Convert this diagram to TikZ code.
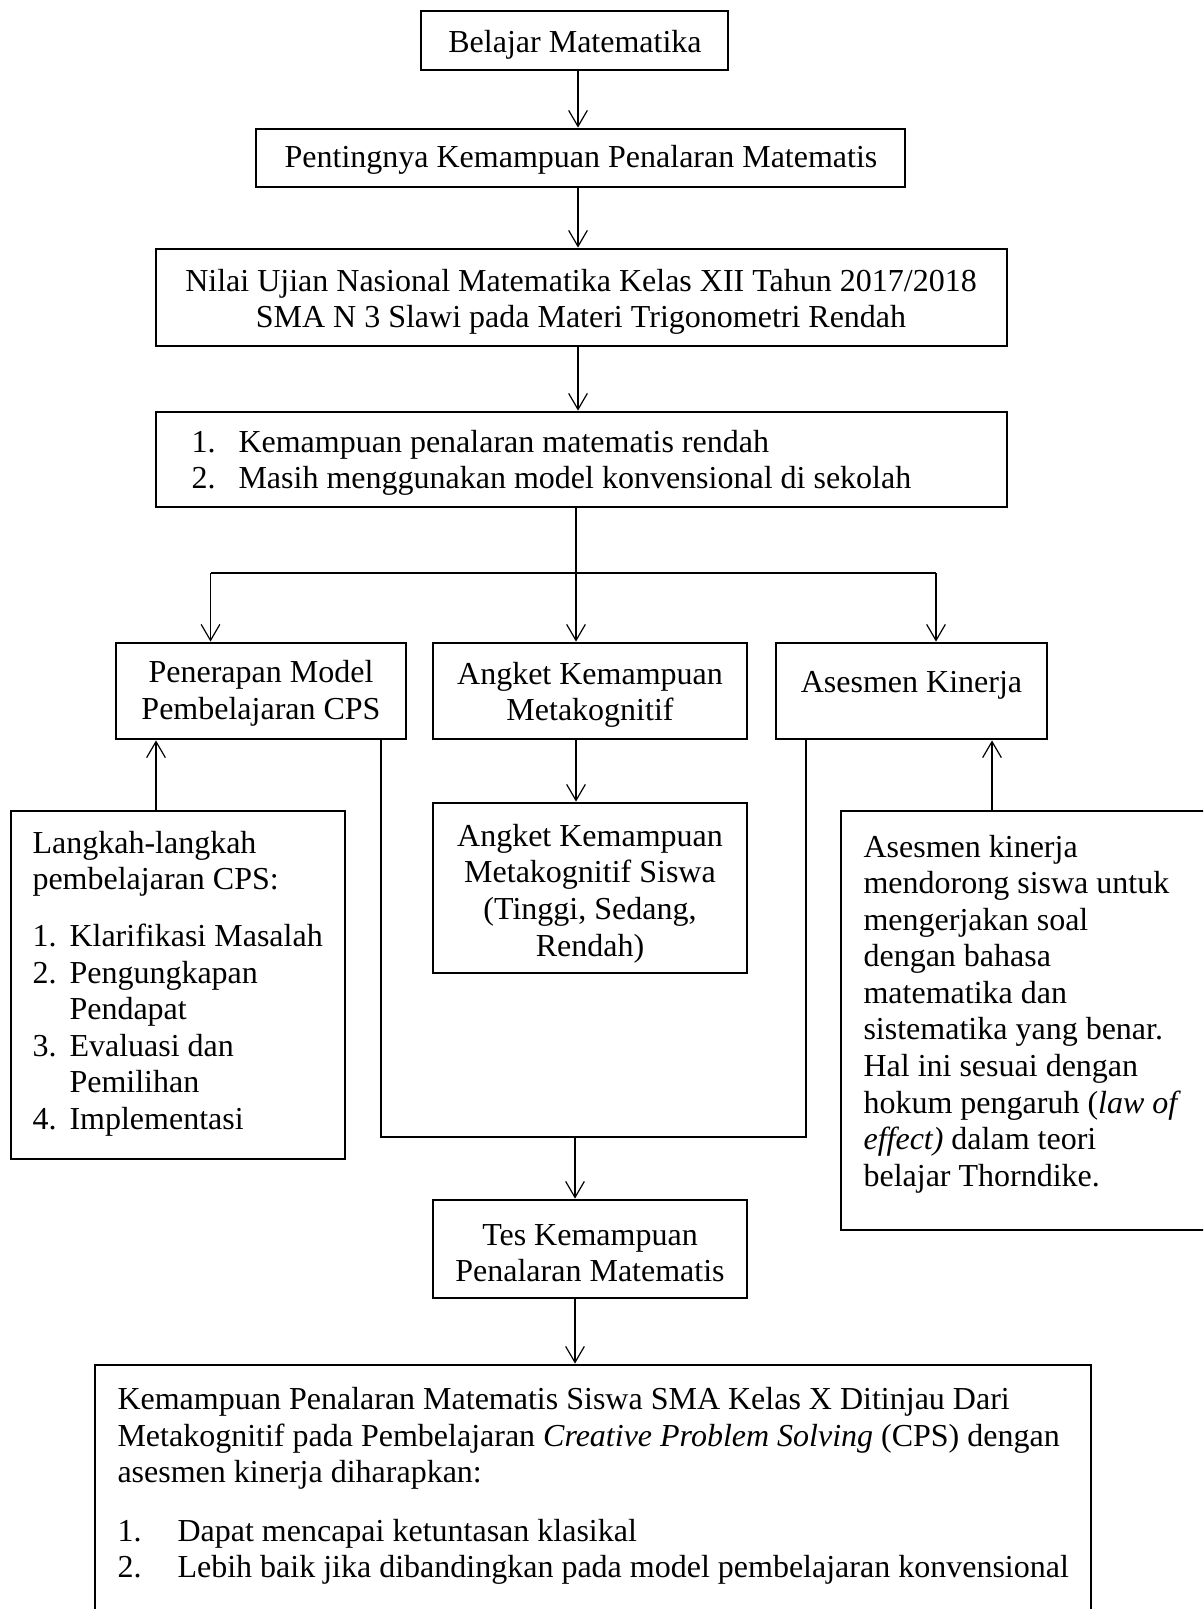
\documentclass[tikz,border=0pt]{standalone}
\usepackage{fontspec}
\setmainfont{Liberation Serif}
\usetikzlibrary{arrows.meta,fit}
\newlength\pxu
\setlength\pxu{0.375pt}
\begin{document}
\begin{tikzpicture}[x=0.375pt, y=-0.375pt,
  font=\fontsize{12}{13.7}\selectfont,
  box/.style={draw, line width=1.05pt, inner sep=0pt},
  txt/.style={inner sep=0pt},
  ctxt/.style={inner sep=0pt, align=center},
  ltxt/.style={inner sep=0pt, align=left, anchor=west},
  conn/.style={line width=0.45pt},
  arr/.style={-{Straight Barb[length=6pt,width=7pt]}},
]
\useasboundingbox (0,0) rectangle (1203,1609);
\clip (0,0) rectangle (1203,1609);

% boxes
\node[box, fit={(421,11) (728,70)}] (b1) {};
\node[ctxt] (b1t) at (575,45) {Belajar Matematika};

\node[box, fit={(256,129) (905,187)}] (b2) {};
\node[ctxt] (b2t) at (581,160) {Pentingnya Kemampuan Penalaran Matematis};

\node[box, fit={(156,249) (1007,346)}] (b3) {};
\node[ctxt] (b3t) at (581,302) {Nilai Ujian Nasional Matematika Kelas XII Tahun 2017/2018\\SMA N 3 Slawi pada Materi Trigonometri Rendah};

\node[box, fit={(156,412) (1007,507)}] (b4) {};
\node[ltxt] (b4t) at (191,463) {\makebox[47\pxu][l]{1.}Kemampuan penalaran matematis rendah\\\makebox[47\pxu][l]{2.}Masih menggunakan model konvensional di sekolah};

\node[box, fit={(116,643) (406,739)}] (pen) {};
\node[ctxt] (pent) at (261,693.5) {Penerapan Model\\Pembelajaran CPS};

\node[box, fit={(433,643) (747,739)}] (ang) {};
\node[ctxt] (angt) at (590,695) {Angket Kemampuan\\Metakognitif};

\node[box, fit={(776,643) (1047,739)}] (ase) {};
\node[ctxt] (aset) at (911.5,685.5) {Asesmen Kinerja};

\node[box, fit={(433,803) (747,973)}] (angs) {};
\node[ctxt] (angst) at (590,893.5) {Angket Kemampuan\\Metakognitif Siswa\\(Tinggi, Sedang,\\Rendah)};

\node[box, fit={(11,811) (345,1159)}] (lang) {};
\node[ltxt] (langt) at (32,983.5) {Langkah-langkah\\pembelajaran CPS:\\[20.5\pxu]\makebox[37\pxu][l]{1.}Klarifikasi Masalah\\\makebox[37\pxu][l]{2.}Pengungkapan\\\hspace*{37\pxu}Pendapat\\\makebox[37\pxu][l]{3.}Evaluasi dan\\\hspace*{37\pxu}Pemilihan\\\makebox[37\pxu][l]{4.}Implementasi};

\node[box, fit={(841,811) (1230,1230)}] (asb) {};
\node[ltxt] (asbt) at (863,1014) {Asesmen kinerja\\mendorong siswa untuk\\mengerjakan soal\\dengan bahasa\\matematika dan\\sistematika yang benar.\\Hal ini sesuai dengan\\hokum pengaruh (\textit{law of}\\\textit{effect)} dalam teori\\belajar Thorndike.};

\node[box, fit={(433,1200) (747,1298)}] (tes) {};
\node[ctxt] (test) at (590,1253) {Tes Kemampuan\\Penalaran Matematis};

\node[box, fit={(95,1365) (1091,1650)}] (fin) {};
\node[ltxt] (fint) at (117,1486) {Kemampuan Penalaran Matematis Siswa SMA Kelas X Ditinjau Dari\\Metakognitif pada Pembelajaran \textit{Creative Problem Solving} (CPS) dengan\\asesmen kinerja diharapkan:\\[22\pxu]\makebox[60\pxu][l]{1.}Dapat mencapai ketuntasan klasikal\\\makebox[60\pxu][l]{2.}Lebih baik jika dibandingkan pada model pembelajaran konvensional};

% helper coordinates
\coordinate (axA) at (578,0);
\coordinate (sL) at (210.5,573);
\coordinate (sM) at (576,573);
\coordinate (sR) at (936,573);
\coordinate (upL) at (156,0);
\coordinate (upR) at (992,0);
\coordinate (mL) at (381,1137);
\coordinate (mM) at (575,1137);
\coordinate (mR) at (806,1137);

% connectors
\draw[conn,arr] (b1.south -| axA) -- (b2.north -| axA);
\draw[conn,arr] (b2.south -| axA) -- (b3.north -| axA);
\draw[conn,arr] (b3.south -| axA) -- (b4.north -| axA);
\draw[conn] (b4.south -| sM) -- (sM);
\draw[conn] (sL) -- (sR);
\draw[conn,arr] (sL) -- (pen.north -| sL);
\draw[conn,arr] (sM) -- (ang.north -| sM);
\draw[conn,arr] (sR) -- (ase.north -| sR);
\draw[conn,arr] (ang.south -| sM) -- (angs.north -| sM);
\draw[conn,arr] (lang.north -| upL) -- (pen.south -| upL);
\draw[conn,arr] (asb.north -| upR) -- (ase.south -| upR);
\draw[conn] (pen.south -| mL) -- (mL) -- (mR) -- (ase.south -| mR);
\draw[conn,arr] (mM) -- (tes.north -| mM);
\draw[conn,arr] (tes.south -| mM) -- (fin.north -| mM);
\end{tikzpicture}
\end{document}
